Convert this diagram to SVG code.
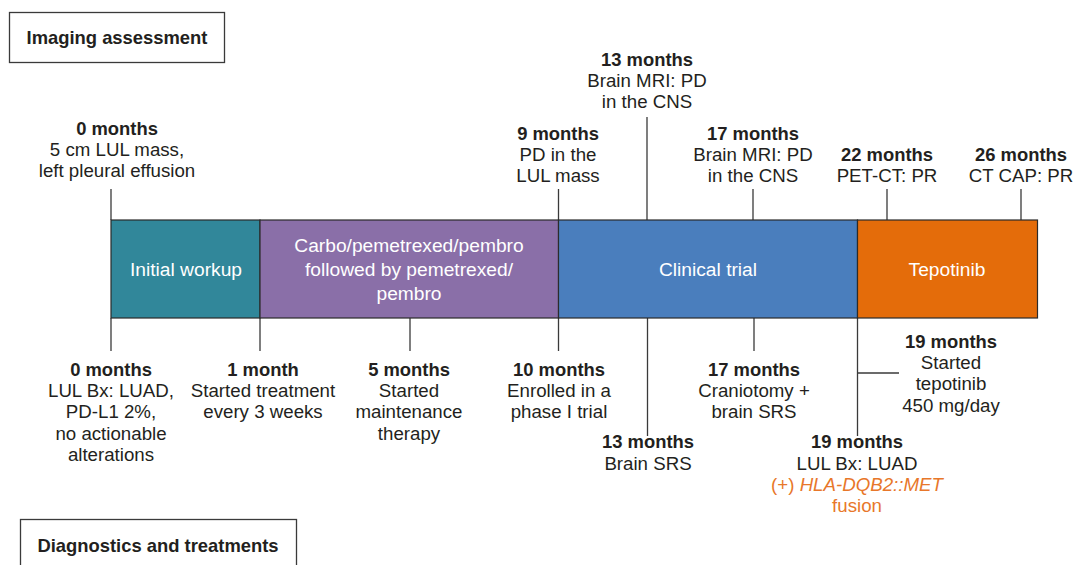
<svg xmlns="http://www.w3.org/2000/svg" width="1074" height="565" viewBox="0 0 1074 565">
<style>
text{font-family:"Liberation Sans",Arial,Helvetica,sans-serif;fill:#231f20;text-anchor:middle}
.t{font-size:18.7px}
.b{font-weight:bold;font-size:18.4px}
.w{fill:#ffffff;font-size:19.2px}
.o{fill:#e8772a}
.ln{stroke:#3a3a3a;stroke-width:1.3;fill:none}
.seg{stroke:#2b2b2b;stroke-width:1.2}
.lbl{fill:#fff;stroke:#3a3a3a;stroke-width:1.3}
</style>
<rect width="1074" height="565" fill="#ffffff"/>
<g id="legend-imaging">
<rect class="lbl" x="9.5" y="12.5" width="215" height="50"/>
<text class="t b" x="117" y="44">Imaging assessment</text>
</g>
<g id="legend-diagnostics">
<rect class="lbl" x="20.5" y="519.5" width="276" height="60"/>
<text class="t b" x="158" y="552">Diagnostics and treatments</text>
</g>
<g id="connectors">
<line class="ln" x1="111" y1="189" x2="111" y2="220"/>
<line class="ln" x1="558.5" y1="189" x2="558.5" y2="220"/>
<line class="ln" x1="647" y1="117" x2="647" y2="220"/>
<line class="ln" x1="753" y1="189" x2="753" y2="220"/>
<line class="ln" x1="887" y1="189" x2="887" y2="220"/>
<line class="ln" x1="1021" y1="189" x2="1021" y2="220"/>
<line class="ln" x1="111" y1="318" x2="111" y2="351"/>
<line class="ln" x1="260" y1="318" x2="260" y2="351"/>
<line class="ln" x1="410" y1="318" x2="410" y2="351"/>
<line class="ln" x1="558.5" y1="318" x2="558.5" y2="351"/>
<line class="ln" x1="647.5" y1="318" x2="647.5" y2="436"/>
<line class="ln" x1="754" y1="318" x2="754" y2="351"/>
<line class="ln" x1="857.5" y1="318" x2="857.5" y2="436"/>
<line class="ln" x1="857.5" y1="373" x2="899" y2="373"/>
</g>
<g id="bar-initial">
<rect class="seg" x="111" y="220" width="149" height="98" fill="#31879a"/>
<text class="w" x="186" y="275.5">Initial workup</text>
</g>
<g id="bar-chemo">
<rect class="seg" x="260" y="220" width="298.5" height="98" fill="#8a6fa8"/>
<text class="w" x="409" y="251.5">Carbo/pemetrexed/pembro</text>
<text class="w" x="409" y="275.5">followed by pemetrexed/</text>
<text class="w" x="409" y="299.5">pembro</text>
</g>
<g id="bar-trial">
<rect class="seg" x="558.5" y="220" width="299" height="98" fill="#4a7ebd"/>
<text class="w" x="708" y="275.5">Clinical trial</text>
</g>
<g id="bar-tepotinib">
<rect class="seg" x="857.5" y="220" width="180" height="98" fill="#e46c0a"/>
<text class="w" x="947" y="275.5">Tepotinib</text>
</g>
<g id="top-0">
<text class="t b" x="117" y="134.5">0 months</text>
<text class="t" x="117" y="156">5 cm LUL mass,</text>
<text class="t" x="117" y="177">left pleural effusion</text>
</g>
<g id="top-9">
<text class="t b" x="558" y="139.5">9 months</text>
<text class="t" x="558" y="161">PD in the</text>
<text class="t" x="558" y="182">LUL mass</text>
</g>
<g id="top-13">
<text class="t b" x="647" y="65.5">13 months</text>
<text class="t" x="647" y="87">Brain MRI: PD</text>
<text class="t" x="647" y="108">in the CNS</text>
</g>
<g id="top-17">
<text class="t b" x="753" y="139.5">17 months</text>
<text class="t" x="753" y="161">Brain MRI: PD</text>
<text class="t" x="753" y="182">in the CNS</text>
</g>
<g id="top-22">
<text class="t b" x="887" y="161">22 months</text>
<text class="t" x="887" y="182">PET-CT: PR</text>
</g>
<g id="top-26">
<text class="t b" x="1021" y="161">26 months</text>
<text class="t" x="1021" y="182">CT CAP: PR</text>
</g>
<g id="bottom-0">
<text class="t b" x="111" y="375.5">0 months</text>
<text class="t" x="111" y="397">LUL Bx: LUAD,</text>
<text class="t" x="111" y="418">PD-L1 2%,</text>
<text class="t" x="111" y="439.5">no actionable</text>
<text class="t" x="111" y="460.5">alterations</text>
</g>
<g id="bottom-1">
<text class="t b" x="263" y="375.5">1 month</text>
<text class="t" x="263" y="397">Started treatment</text>
<text class="t" x="263" y="418">every 3 weeks</text>
</g>
<g id="bottom-5">
<text class="t b" x="409" y="375.5">5 months</text>
<text class="t" x="409" y="397">Started</text>
<text class="t" x="409" y="418">maintenance</text>
<text class="t" x="409" y="439.5">therapy</text>
</g>
<g id="bottom-10">
<text class="t b" x="559" y="375.5">10 months</text>
<text class="t" x="559" y="397">Enrolled in a</text>
<text class="t" x="559" y="418">phase I trial</text>
</g>
<g id="bottom-13">
<text class="t b" x="648" y="448">13 months</text>
<text class="t" x="648" y="469.5">Brain SRS</text>
</g>
<g id="bottom-17">
<text class="t b" x="754" y="375.5">17 months</text>
<text class="t" x="754" y="397">Craniotomy +</text>
<text class="t" x="754" y="418">brain SRS</text>
</g>
<g id="bottom-19a">
<text class="t b" x="951" y="347.5">19 months</text>
<text class="t" x="951" y="369">Started</text>
<text class="t" x="951" y="390">tepotinib</text>
<text class="t" x="951" y="411.5">450 mg/day</text>
</g>
<g id="bottom-19b">
<text class="t b" x="857" y="448">19 months</text>
<text class="t" x="857" y="469.5">LUL Bx: LUAD</text>
<text class="t o" x="857" y="491">(+) <tspan font-style="italic">HLA-DQB2::MET</tspan></text>
<text class="t o" x="857" y="512">fusion</text>
</g>
</svg>
